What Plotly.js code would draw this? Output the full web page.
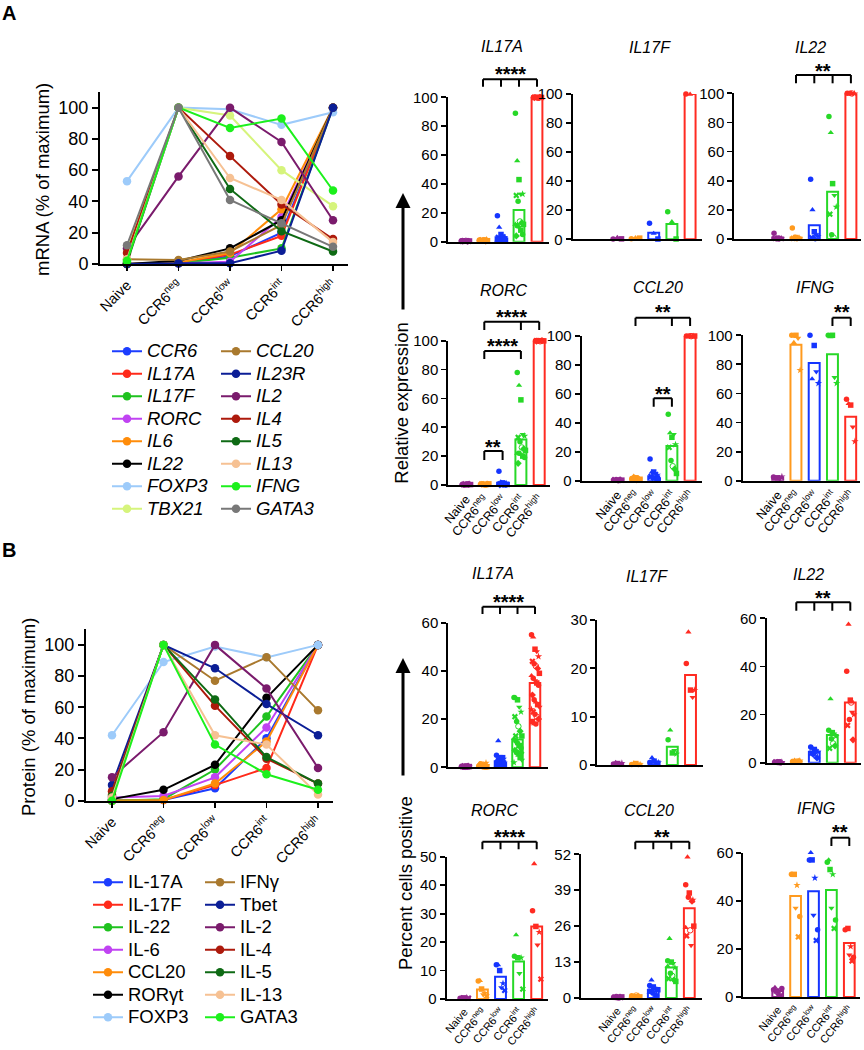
<!DOCTYPE html>
<html><head><meta charset="utf-8">
<script src="https://cdn.plot.ly/plotly-3.0.1.min.js"></script>
<style>body{margin:0;background:#fff}#chart{width:864px;height:1050px}</style>
</head><body><div id="chart"></div>
<script>
// ---------------- DATA ----------------
const GROUP_LABELS=['Naive','CCR6<sup>neg</sup>','CCR6<sup>low</sup>','CCR6<sup>int</sup>','CCR6<sup>high</sup>'];
const GROUP_IDX=[0,1,2,3,4];

// Panel A line chart (mRNA, % of maximum)
const A_LINE_NAMES_1=['CCR6','IL17A','IL17F','RORC','IL6','IL22','FOXP3','TBX21'];
const A_LINE_NAMES_2=['CCL20','IL23R','IL2','IL4','IL5','IL13','IFNG','GATA3'];
const A_LINE_VALUES_1=[[0,0.5,5,20,100],[0,0.5,6,18,100],[0,0.5,4,10,100],[0,0.5,1.5,30,100],[0,1,7,35,100],[0,2,10,28,100],[53,100,99,89,97],[9,100,95,60,37]];
const A_LINE_VALUES_2=[[3,2.5,8,25,100],[0,0.5,0.5,8.5,100],[10,56,100,78,28],[7,100,69,38,16],[1,100,48,21,8],[3,100,55,41,14],[2,100,87,93,47],[12,100,41,26,11]];

// Panel B line chart (protein, % of maximum)
const B_LINE_NAMES_1=['IL-17A','IL-17F','IL-22','IL-6','CCL20','RORγt','FOXP3'];
const B_LINE_NAMES_2=['IFNγ','Tbet','IL-2','IL-4','IL-5','IL-13','GATA3'];
const B_LINE_VALUES_1=[[0,0.5,8,40,100],[0,0.5,10,21,100],[0,1,20,54,100],[2,3,15,47,100],[0,0.5,11,38,100],[1,7,23,66,100],[42,89,99,92,100]];
const B_LINE_VALUES_2=[[4,100,77,92,58],[10,100,85,62,42],[15,44,100,72,21],[6,100,61,27,11],[3,100,65,28,11],[2,100,42,36,4],[0,100,36,17,7]];

// Panel A small multiples: relative expression
const A_IL17A_BAR=[0.3,0.8,3,22,100];
const A_IL17A_PTS=[[0.6,0.4,0.3,0.5,0.2,0.3,0.4,0.6,0.2,0.5,0.3,0.4,0.2,0.3,0.5,0.4],[1.2,1.0,0.8,0.5,1.5,0.6,0.9,1.0,0.4,0.7,1.3,0.5,0.8,1.1,0.6,0.9],[18,10,5,4,3,3,2,2,1.5,1,1,0.8,0.5,3,2,1],[89,56,43,33,33,32,28,14,13,12,12,11,10,8,5,4],[100,99.7,100,100.2,99.8,100,100.3,99.6,100,99.9,100.1,100,99.8,100.2,100,99.7]];
const A_IL17F_BAR=[0.5,0.5,4.5,10.5,100];
const A_IL17F_PTS=[[0.2,1.2,0.3],[0.3,1.0,0.8],[11,4,0.2],[19,12,0.2],[100,99.8,100.2]];
const A_IL22_BAR=[1,1,9.5,32.5,100];
const A_IL22_PTS=[[4,0.5,0.3,1,0.2,0.5,0.3,0.4],[7.5,0.5,1,0.8,0.6,0.4,1.2,0.5],[41,20,5,3,2,1,0.5,0.5],[84,73,38,30,22,17,3,1],[100,99.7,100.2,100,99.8,100.3,100,99.9]];
const A_RORC_BAR=[0.4,0.5,1.5,31.5,100];
const A_RORC_PTS=[[0.3,0.5,0.2,0.4,0.6,0.3,0.2,0.5,0.4,0.3,0.6,0.2,0.4,0.5,0.3,0.4],[0.5,0.8,0.3,0.6,0.4,0.7,0.5,0.3,0.6,0.8,0.4,0.5,0.7,0.3,0.6,0.5],[9.5,2,1.5,1,1,0.8,0.5,0.5,0.5,0.4,0.3,0.3,0.2,0.2,0.1,0.1],[78,69,59,35,34,33,30,26,25,24,22,22,21,20,19,15],[100,99.7,100,100.2,99.8,100,100.3,99.6,100,99.9,100.1,100,99.8,100.2,100,99.7]];
const A_CCL20_BAR=[0.6,1.2,3,24,100];
const A_CCL20_PTS=[[0.5,0.8,0.3,0.6,0.4,0.7,0.5,0.3,0.6,0.4],[1.5,3,2,1,0.8,1.2,2.2,0.5,1.5,1],[15,6,6,5,4,3,2,1,1,0.5],[46,33,30,32,25,23,14,10,8,5],[100,99.8,100.2,100,99.7,100.3,100,99.9,100.1,100]];
const A_IFNG_BAR=[2,93.5,81,87,44];
const A_IFNG_PTS=[[2.5,1.5,2,1.2,2.8],[100,95,100,98,76],[100,70,93,75,67],[100,99,100,71,67],[56,53,52,37,27]];

// Panel B small multiples: percent cells positive
const B_IL17A_BAR=[0.2,0.5,2.5,11.5,35];
const B_IL17A_PTS=[[0.3,0.1,0.4,0.2,0.5,0.3,0.1,0.2,0.4,0.3,0.2,0.1,0.3,0.5,0.2,0.4,0.1,0.3,0.2,0.4],[0.5,1.2,0.8,0.3,1.8,0.6,0.4,1,0.7,0.2,0.9,1.5,0.5,0.3,0.6,1.1,0.4,0.8,0.2,0.7],[5,11,4,3,3.5,2,2.5,1.5,1,1,0.5,3,2,1.5,0.8,2.2,1.2,0.6,4,1.8],[29,29,28,25,23,21,19,17,15,13,12,11,10,9,8,7,6,5,4,3,2,13,10,8,6],[55,54,49,48,46,44,43,42,41,39,38,37,36,35,34,30,28,27,26,25,24,23,22,21,20,19,18,18]];
const B_IL17F_BAR=[0.3,0.25,0.7,3.8,18.6];
const B_IL17F_PTS=[[0.2,0.5,0.3,0.1,0.4],[0.1,0.4,0.3,0.2,0.1],[0.5,1.5,0.8,0.3,0.5],[5.2,7.2,2.5,3,2.3],[21,27.5,15.5,14,15.5]];
const B_IL22_BAR=[0.2,0.5,4.5,11.5,25];
const B_IL22_PTS=[[0.2,0.1,0.3,0,0.2,0.3,0.1,0.2,0.1],[0.5,1,0.3,0.6,0.8,0.4,0.2,0.5,0.6],[6.5,6,5.5,5,4.5,4,3.5,3,2],[13.5,26.5,12.5,12,11,6,10,8,7],[38,57.5,26,21,20,15.5,18,25,9.5]];
const B_RORC_BAR=[0.4,3.3,7.8,13.2,25.5];
const B_RORC_PTS=[[0.3,0.5,0.4,0.2,0.5,0.3],[6.3,6.5,3.5,1.5,2,1],[12,12,10,4,5.5,3],[15,22.5,14.5,9,14.5,3.5],[31,47.5,25.5,19,23.5,7]];
const B_CCL20_BAR=[0.3,0.5,3,11,32.5];
const B_CCL20_PTS=[[0.3,0.5,0.2,0.4,0.1,0.3,0.5,0.2,0.3,0.4,0.2],[0.8,0.6,0.5,0.4,0.7,0.3,0.5,0.9,0.6,0.4,0.7],[4.5,6.5,4,3.5,3,2.5,2,1.5,1,3,2],[13.5,21.5,13,12.5,11,7,9,8,6.5,6,11.5],[41,51,38,19,35.5,22.5,36.5,24.5,35,26,25.5]];
const B_IFNG_BAR=[2.5,42,44,44.5,22.5];
const B_IFNG_PTS=[[3,4,2.5,1,2,0.5,3.5],[51,50.5,51,37,46.5,25,33.5],[57,60,57,34,49.5,23.5,28],[56,57,53,37,51,28.5,32],[28,28,28.5,17.5,21,15,16.5]];

const SUB_TITLES=['IL17A','IL17F','IL22','RORC','CCL20','IFNG','IL17A','IL17F','IL22','RORC','CCL20','IFNG'];
const SUB_BARS=[A_IL17A_BAR,A_IL17F_BAR,A_IL22_BAR,A_RORC_BAR,A_CCL20_BAR,A_IFNG_BAR,B_IL17A_BAR,B_IL17F_BAR,B_IL22_BAR,B_RORC_BAR,B_CCL20_BAR,B_IFNG_BAR];
const SUB_PTS=[A_IL17A_PTS,A_IL17F_PTS,A_IL22_PTS,A_RORC_PTS,A_CCL20_PTS,A_IFNG_PTS,B_IL17A_PTS,B_IL17F_PTS,B_IL22_PTS,B_RORC_PTS,B_CCL20_PTS,B_IFNG_PTS];

// ---------------- STYLE / LAYOUT ----------------
const W=864,H=1050;
const FONT='Liberation Sans, Arial, Helvetica, sans-serif';
const X=p=>p/W, Y=p=>1-p/H;
const GROUP_COLORS=['#93278F','#FF9A1E','#1535FF','#27D827','#FF2B22'];
const LINE_COLORS_1=['#1C3DFF','#FF2A1A','#1FC21F','#C043F2','#FF8C0A','#000000','#9DCBFA','#D6F47C'];
const LINE_COLORS_2=['#A9792E','#0B1E96','#7A1B6C','#AD1A0C','#0E6A14','#F6C193','#1CF01C','#787878'];
const SYMBOLS=['circle','triangle-up','square','triangle-down','star','x','circle','circle-open','diamond','square','triangle-up','circle','triangle-down','square','circle','diamond'];

const PANEL_BOXES=[
 {l:448,r:549,t:97.3,b:241.7,c0:465,dc:18,ymax:100,dtick:20,lab:false,tx:501.7,ty:46},
 {l:572.7,r:701.7,t:94,b:239.3,c0:617.3,dc:18.2,ymax:100,dtick:20,lab:false,tx:650,ty:48},
 {l:734.3,r:861,t:93.3,b:239,c0:777.7,dc:18.3,ymax:100,dtick:20,lab:false,tx:810,ty:48},
 {l:448.3,r:550,t:340.7,b:485,c0:466,dc:18.3,ymax:100,dtick:20,lab:true,fs:12.5,tx:504,ty:290.7},
 {l:581.7,r:701.7,t:336,b:480.7,c0:617.3,dc:18.2,ymax:100,dtick:20,lab:true,fs:12.5,tx:658,ty:287},
 {l:742.7,r:860,t:335.3,b:480.7,c0:777.7,dc:18.25,ymax:100,dtick:20,lab:true,fs:12.5,tx:815,ty:287},
 {l:448.3,r:548.3,t:622.7,b:767.3,c0:465,dc:17.5,ymax:60,dtick:20,lab:false,tx:493.3,ty:573.3},
 {l:597.3,r:702.7,t:620,b:765,c0:617.7,dc:18.2,ymax:30,dtick:10,lab:false,tx:646.7,ty:576.7},
 {l:766.7,r:861,t:618.3,b:762.7,c0:778.3,dc:18,ymax:60,dtick:20,lab:false,tx:808.3,ty:574},
 {l:446.7,r:548.3,t:856.7,b:999,c0:464.3,dc:18.1,ymax:50,dtick:10,lab:true,fs:11,tx:495,ty:810.7},
 {l:581,r:701.7,t:854.3,b:998,c0:617.3,dc:18,ymax:52,dtick:13,lab:true,fs:11,tx:649.3,ty:810.7},
 {l:743.3,r:860,t:852.7,b:997,c0:777.7,dc:17.9,ymax:60,dtick:20,lab:true,fs:11,tx:816,ty:808.3}
];
const BRACKETS=[
 {p:0,ticks:[1,2,3,4],y:79.3,b:86.7,s:'****',sy:69},
 {p:2,ticks:[1,2,3,4],y:75,b:83.3,s:'**',sy:66},
 {p:3,ticks:[1,2],y:451,b:460,s:'**',sy:441.7},
 {p:3,ticks:[1,3],y:351,b:359,s:'****',sy:341},
 {p:3,ticks:[1,3,4],y:321.7,b:330,s:'****',sy:311.7},
 {p:4,ticks:[2,3],y:398.3,b:406.7,s:'**',sy:389.3},
 {p:4,ticks:[1,3,4],y:317.7,b:326,s:'**',sy:307.3},
 {p:5,ticks:[3,4],y:317.7,b:326,s:'**',sy:307.3},
 {p:6,ticks:[1,2,3,4],y:606.7,b:614,s:'****',sy:596.7},
 {p:8,ticks:[1,2,3,4],y:602.3,b:610.7,s:'**',sy:592.7},
 {p:9,ticks:[1,2,3,4],y:841.7,b:849.3,s:'****',sy:831.7},
 {p:10,ticks:[1,2,3,4],y:841.7,b:849.3,s:'**',sy:831.7},
 {p:11,ticks:[3,4],y:837.7,b:846,s:'**',sy:827.3}
];

const traces=[];
const layout={
  width:W,height:H,margin:{l:0,r:0,t:0,b:0},paper_bgcolor:'#fff',plot_bgcolor:'rgba(0,0,0,0)',
  font:{family:FONT,color:'#000'},showlegend:true,annotations:[],shapes:[]
};

function lineTraces(names,vals,colors,xa,ya,leg){
  names.forEach((n,i)=>{
    traces.push({type:'scatter',mode:'lines+markers',x:GROUP_IDX,y:vals[i],name:'<span style="font-size:18.5px">'+n+'</span>',
      xaxis:xa,yaxis:ya,legend:leg,line:{color:colors[i],width:2},marker:{color:colors[i],size:8.5},cliponaxis:false,hoverinfo:'skip'});
  });
}
// line charts
lineTraces(A_LINE_NAMES_1,A_LINE_VALUES_1,LINE_COLORS_1,'x','y','legend');
lineTraces(A_LINE_NAMES_2,A_LINE_VALUES_2,LINE_COLORS_2,'x','y','legend2');
lineTraces(B_LINE_NAMES_1,B_LINE_VALUES_1,LINE_COLORS_1,'x2','y2','legend3');
lineTraces(B_LINE_NAMES_2,B_LINE_VALUES_2,LINE_COLORS_2,'x2','y2','legend4');

function lineAxes(k,l,r,t,b,c0,dc,ytitle,tx,ty){
  const sx=k===1?'':k;
  layout['xaxis'+sx]={domain:[X(l),X(r)],anchor:'y'+sx,range:[(l-c0)/dc,(r-c0)/dc],tickvals:GROUP_IDX,ticktext:GROUP_LABELS,
    tickangle:-45,ticks:'outside',ticklen:5,tickwidth:1.8,tickcolor:'#000',showline:true,linecolor:'#000',linewidth:2,
    showgrid:false,zeroline:false,tickfont:{size:14.5,family:FONT},fixedrange:true};
  layout['yaxis'+sx]={domain:[Y(b),Y(t)],anchor:'x'+sx,range:[0,110],tickvals:[0,20,40,60,80,100],ticks:'outside',ticklen:6,tickwidth:2,
    tickcolor:'#000',showline:true,linecolor:'#000',linewidth:2,showgrid:false,zeroline:false,tickfont:{size:18,family:FONT},fixedrange:true};
  layout.annotations.push({text:ytitle,xref:'paper',yref:'paper',x:X(tx),y:Y(ty),textangle:-90,showarrow:false,
    xanchor:'center',yanchor:'middle',font:{size:18.5,family:FONT}});
}
lineAxes(1,100,348,92,264,127,51.5,'mRNA (% of maximum)',42,180);
lineAxes(2,86,333,629.3,800.7,112,51.5,'Protein (% of maximum)',28,717);

// legends
function legendCfg(xpx,ypx,italic){
  return {x:X(xpx),xanchor:'left',y:Y(ypx),yanchor:'top',bgcolor:'rgba(0,0,0,0)',itemwidth:30,
    font:{size:15,family:FONT,style:italic?'italic':'normal'},itemclick:false,itemdoubleclick:false};
}
layout.legend=legendCfg(107,335,true);
layout.legend2=legendCfg(216,335,true);
layout.legend3=legendCfg(88,866,false);
layout.legend4=legendCfg(200,866,false);

// small multiples
function spread(n,i){
  if(n<=7) return n===1?0:(i/(n-1)-0.5)*0.46;
  return ((i%5)-2)*0.1+((Math.floor(i/5)%2)?0.05:0);
}
PANEL_BOXES.forEach((bx,j)=>{
  const k=j+3;
  const xa='x'+k, ya='y'+k;
  traces.push({type:'bar',x:GROUP_IDX,y:SUB_BARS[j],width:0.6,xaxis:xa,yaxis:ya,showlegend:false,hoverinfo:'skip',
    marker:{color:'rgba(255,255,255,0)',line:{color:GROUP_COLORS,width:2}}});
  const px=[],py=[],pc=[],ps=[];
  SUB_PTS[j].forEach((arr,g)=>{
    arr.forEach((v,i)=>{px.push(g+spread(arr.length,i));py.push(v);pc.push(GROUP_COLORS[g]);ps.push(SYMBOLS[i%SYMBOLS.length]);});
  });
  traces.push({type:'scatter',mode:'markers',x:px,y:py,xaxis:xa,yaxis:ya,showlegend:false,hoverinfo:'skip',cliponaxis:false,
    marker:{color:pc,symbol:ps,size:5.5,line:{width:0}}});
  const yt=[];for(let v=0;v<=bx.ymax+1e-9;v+=bx.dtick)yt.push(v);
  layout['xaxis'+k]={domain:[X(bx.l),X(bx.r)],anchor:ya,range:[(bx.l-bx.c0)/bx.dc,(bx.r-bx.c0)/bx.dc],tickvals:GROUP_IDX,
    ticktext:GROUP_LABELS,showticklabels:bx.lab,tickangle:-50,ticks:'',showline:true,linecolor:'#000',linewidth:2,
    showgrid:false,zeroline:false,tickfont:{size:bx.fs||12.5,family:FONT},fixedrange:true};
  layout['yaxis'+k]={domain:[Y(bx.b),Y(bx.t)],anchor:xa,range:[0,bx.ymax],tickvals:yt,ticks:'outside',ticklen:5,tickwidth:1.8,
    tickcolor:'#000',showline:true,linecolor:'#000',linewidth:2,showgrid:false,zeroline:false,tickfont:{size:15,family:FONT},fixedrange:true};
  layout.annotations.push({text:SUB_TITLES[j],xref:'paper',yref:'paper',x:X(bx.tx),y:Y(bx.ty),showarrow:false,
    xanchor:'center',yanchor:'middle',font:{size:16,family:FONT,style:'italic'}});
});

// significance brackets
BRACKETS.forEach(br=>{
  const xa='x'+(br.p+3);
  const a=br.ticks[0], z=br.ticks[br.ticks.length-1];
  const ln={color:'#000',width:2};
  layout.shapes.push({type:'line',xref:xa,yref:'paper',x0:a,x1:z,y0:Y(br.y),y1:Y(br.y),line:ln});
  br.ticks.forEach(t=>layout.shapes.push({type:'line',xref:xa,yref:'paper',x0:t,x1:t,y0:Y(br.y),y1:Y(br.b),line:ln}));
  layout.annotations.push({text:'<b>'+br.s+'</b>',xref:xa,yref:'paper',x:(a+z)/2,y:Y(br.sy+5),showarrow:false,
    xanchor:'center',yanchor:'middle',font:{size:20,family:FONT}});
});

// y labels + arrows for small multiples
layout.annotations.push({text:'Relative expression',xref:'paper',yref:'paper',x:X(400.7),y:Y(403),textangle:-90,showarrow:false,
  xanchor:'center',yanchor:'middle',font:{size:18.5,family:FONT}});
layout.annotations.push({text:'Percent cells positive',xref:'paper',yref:'paper',x:X(405),y:Y(883),textangle:-90,showarrow:false,
  xanchor:'center',yanchor:'middle',font:{size:18.5,family:FONT}});
[[403,193,118],[403,658,119]].forEach(a=>{
  layout.annotations.push({text:'',xref:'paper',yref:'paper',x:X(a[0]),y:Y(a[1]),ax:0,ay:a[2],axref:'pixel',ayref:'pixel',
    showarrow:true,arrowhead:2,arrowsize:1,arrowwidth:3,arrowcolor:'#000',standoff:0});
});
// panel letters
layout.annotations.push({text:'<b>A</b>',xref:'paper',yref:'paper',x:X(0),y:Y(0),xanchor:'left',yanchor:'top',showarrow:false,font:{size:20,family:FONT}});
layout.annotations.push({text:'<b>B</b>',xref:'paper',yref:'paper',x:X(0),y:Y(537),xanchor:'left',yanchor:'top',showarrow:false,font:{size:20,family:FONT}});

Plotly.newPlot('chart',traces,layout,{staticPlot:true,displayModeBar:false});
</script></body></html>
